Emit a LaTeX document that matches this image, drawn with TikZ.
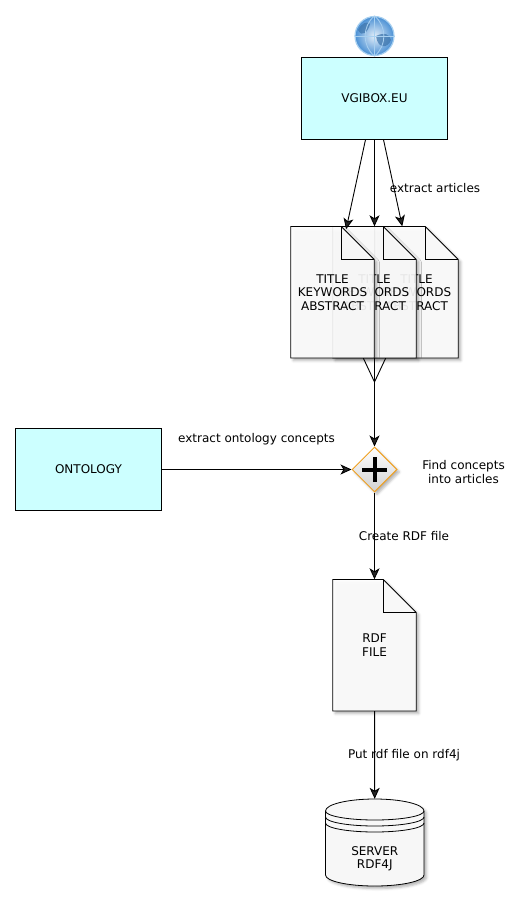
\documentclass[tikz,border=0pt]{standalone}
\usepackage{fontspec}
\setmainfont{DejaVu Sans}
\usetikzlibrary{arrows.meta,shapes.geometric,shadows.blur}
\definecolor{boxcyan}{HTML}{CCFFFF}
\definecolor{globeblue}{HTML}{4A90D4}
\definecolor{globepale}{HTML}{A8D0F0}
\definecolor{gateorange}{HTML}{F0A020}
\tikzset{
	every node/.style={font=\fontsize{12pt}{13.5pt}\selectfont,align=center,text=black},
	conn/.style={->,>={Stealth[length=11pt,width=10pt,inset=3pt]},line width=.9pt},
	plainconn/.style={line width=.9pt},
	sourcebox/.style={draw,line width=.8pt,fill=boxcyan,minimum width=146pt,minimum height=82pt,inner sep=0pt},
	softshadow/.style={blur shadow={shadow xshift=2.5pt,shadow yshift=-2.5pt,shadow blur radius=2.5pt,shadow opacity=30}},
	sheet/.style={draw,line width=.8pt,fill=white,fill opacity=.9,softshadow},
	sheetlabel/.style={minimum width=83.5pt,minimum height=131.5pt,inner sep=0pt},
	gateway/.style={diamond,draw=gateorange,line width=1pt,minimum width=45pt,minimum height=45pt,inner sep=0pt,top color=white,bottom color=black!18,softshadow}
}
\newcommand{\docsheet}[4]{
	\path [sheet] (#2-41.75,#3-65.75) -- (#2+8.75,#3-65.75) -- (#2+41.75,#3-32.75) -- (#2+41.75,#3+65.75) -- (#2-41.75,#3+65.75) -- cycle;
	\draw [line width=.8pt] (#2+8.75,#3-65.75) -- (#2+8.75,#3-32.75) -- (#2+41.75,#3-32.75);
	\node [sheetlabel] (#1) at (#2,#3) {#4};
}
\begin{document}
\begin{tikzpicture}[x=1pt,y=-1pt]
	\useasboundingbox (0,0) rectangle (523,904);

	\shade [inner color=white!85!globeblue,outer color=globeblue] (374.5,36) circle (19.5pt);
	\fill [globeblue!80!black,opacity=.7] (358,30) .. controls (362,22) and (368,21) .. (370,24) .. controls (368,32) and (362,38) .. (358,30);
	\fill [globeblue!80!black,opacity=.7] (376,36) .. controls (384,32) and (390,34) .. (391,40) .. controls (388,48) and (378,50) .. (376,36);
	\draw [globepale,line width=.8pt] (374.5,16) -- (374.5,56) (354.5,36) -- (394.5,36);
	\draw [globepale,line width=1.2pt] (374.5,36) circle (19.5pt);
	\draw [globepale,line width=.8pt] (374.5,16) .. controls (362,26) and (362,46) .. (374.5,56) .. controls (387,46) and (387,26) .. (374.5,16);

	\node [sourcebox] (vgibox) at (374.5,98) {VGIBOX.EU};
	\node [sourcebox] (ontology) at (88.5,469.5) {ONTOLOGY};

	\docsheet{docC}{416.5}{292.25}{TITLE\\KEYWORDS\\ABSTRACT}
	\docsheet{docB}{374.5}{292.25}{TITLE\\KEYWORDS\\ABSTRACT}
	\docsheet{docA}{332.5}{292.25}{TITLE\\KEYWORDS\\ABSTRACT}
	\docsheet{rdffile}{374.5}{645.25}{RDF\\FILE}

	\node [gateway] (concepts) at (374.5,469.5) {};
	\draw [line width=4pt,black] ([xshift=-12.5pt]concepts.center) -- ([xshift=12.5pt]concepts.center);
	\draw [line width=4pt,black] ([yshift=-12.5pt]concepts.center) -- ([yshift=12.5pt]concepts.center);

	\path [draw,line width=.8pt,fill=white!97!black,softshadow] (325.5,811) arc [start angle=180,end angle=0,x radius=49.25pt,y radius=12pt] -- (424,875) arc [start angle=0,end angle=-180,x radius=49.25pt,y radius=11pt] -- cycle;
	\draw [line width=.8pt] (325.5,811) arc [start angle=180,end angle=360,x radius=49.25pt,y radius=9pt];
	\draw [line width=.8pt] (325.5,817) arc [start angle=180,end angle=360,x radius=49.25pt,y radius=9pt];
	\draw [line width=.8pt] (325.5,823) arc [start angle=180,end angle=360,x radius=49.25pt,y radius=9pt];
	\node [minimum width=98.5pt,minimum height=86pt,inner sep=0pt] (server) at (374.75,842) {\\[29pt]SERVER\\RDF4J};

	\coordinate (merge) at (374.5,382);

	\draw [conn,shorten >=-3pt] (vgibox) -- (docA);
	\draw [conn] (vgibox) -- (docB);
	\draw [conn] (vgibox) -- (docC);
	\draw [plainconn] (docA) -- (merge);
	\draw [plainconn] (docC) -- (merge);
	\draw [conn] (docB) -- (concepts);
	\draw [conn] (ontology) -- (concepts);
	\draw [conn] (concepts) -- (rdffile);
	\draw [conn] (rdffile) -- (server);

	\node (articleslabel) at (435,188.5) {extract articles};
	\node (ontologylabel) at (256.5,439.5) {extract ontology concepts};
	\node (findlabel) at (463.5,472) {Find concepts\\into articles};
	\node (rdflabel) at (404,536) {Create RDF file};
	\node (putlabel) at (404,755) {Put rdf file on rdf4j};
\end{tikzpicture}
\end{document}
